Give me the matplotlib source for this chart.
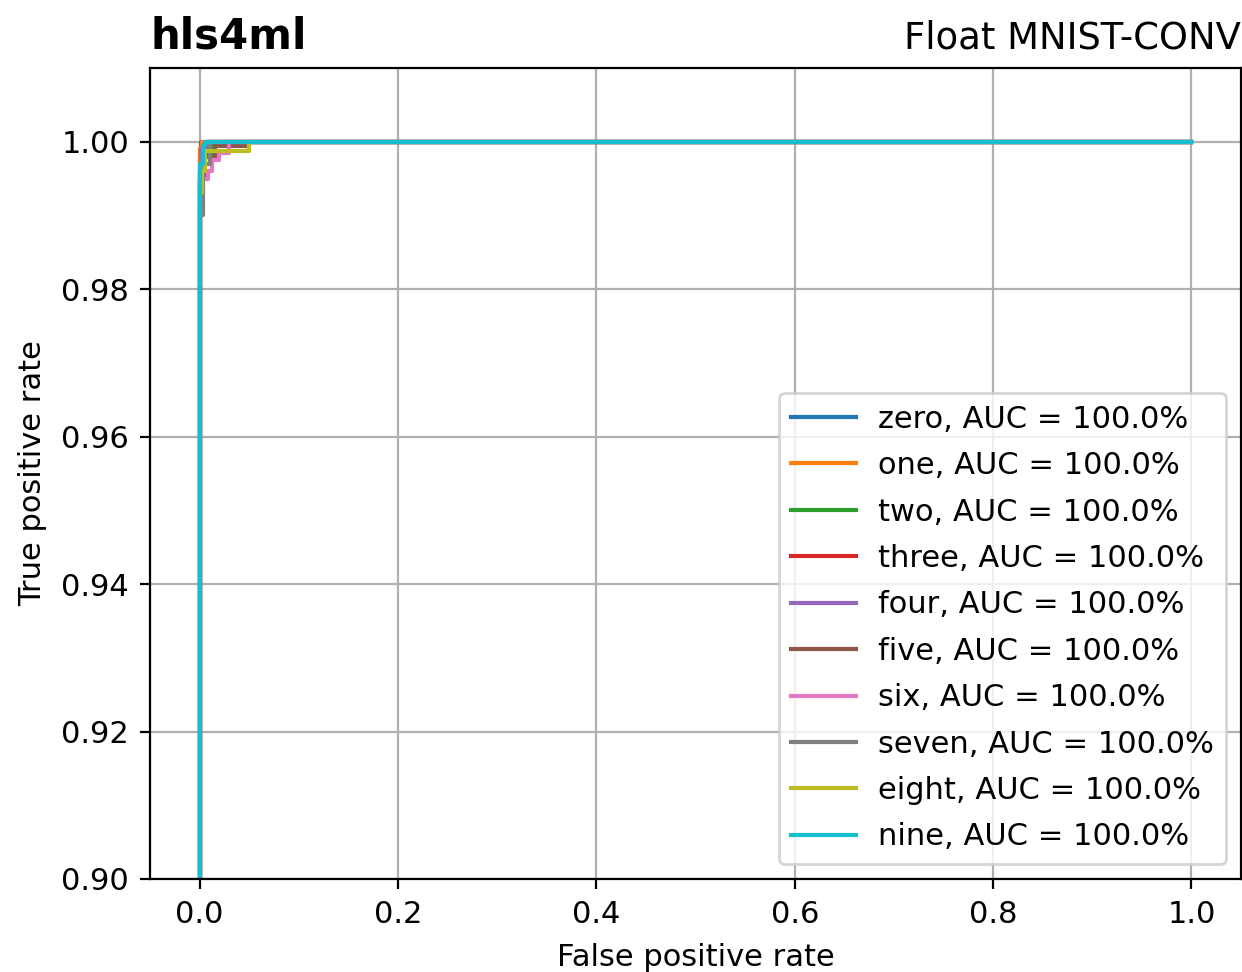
import matplotlib
matplotlib.use("Agg")
import matplotlib.pyplot as plt

labels = ["zero", "one", "two", "three", "four", "five", "six", "seven", "eight", "nine"]
auc = [100.0] * 10

fpr_zero = [0, 0, 0.001, 0.001, 1]
tpr_zero = [0, 0.9985, 0.9985, 1, 1]
fpr_one = [0, 0, 0.002, 0.002, 1]
tpr_one = [0, 0.9992, 0.9992, 1, 1]
fpr_two = [0, 0, 0.004, 0.004, 0.012, 0.012, 0.022, 0.022, 1]
tpr_two = [0, 0.996, 0.996, 0.9985, 0.9985, 0.9995, 0.9995, 1, 1]
fpr_three = [0, 0, 0.003, 0.003, 0.008, 0.008, 1]
tpr_three = [0, 0.995, 0.995, 0.998, 0.998, 1, 1]
fpr_four = [0, 0, 0.001, 0.001, 0.006, 0.006, 1]
tpr_four = [0, 0.996, 0.996, 0.999, 0.999, 1, 1]
fpr_five = [0, 0, 0.004, 0.004, 0.015, 0.015, 0.05, 0.05, 1]
tpr_five = [0, 0.995, 0.995, 0.998, 0.998, 0.9994, 0.9994, 1, 1]
fpr_six = [0, 0, 0.008, 0.008, 0.012, 0.012, 0.02, 0.02, 0.03, 0.03, 1]
tpr_six = [0, 0.995, 0.995, 0.996, 0.996, 0.9975, 0.9975, 0.9985, 0.9985, 1, 1]
fpr_seven = [0, 0, 0.003, 0.003, 0.01, 0.01, 1]
tpr_seven = [0, 0.990, 0.990, 0.997, 0.997, 1, 1]
fpr_eight = [0, 0, 0.002, 0.002, 0.005, 0.005, 0.05, 0.05, 1]
tpr_eight = [0, 0.993, 0.993, 0.996, 0.996, 0.9988, 0.9988, 1, 1]
fpr_nine = [0, 0, 0.003, 0.003, 0.005, 0.005, 1]
tpr_nine = [0, 0.997, 0.997, 0.9995, 0.9995, 1, 1]

fprs = [fpr_zero, fpr_one, fpr_two, fpr_three, fpr_four, fpr_five, fpr_six, fpr_seven, fpr_eight, fpr_nine]
tprs = [tpr_zero, tpr_one, tpr_two, tpr_three, tpr_four, tpr_five, tpr_six, tpr_seven, tpr_eight, tpr_nine]

fig = plt.figure(figsize=(6.21, 4.86), dpi=200)
ax = fig.add_axes([0.1208, 0.0957, 0.8784, 0.8343])

for lab, a, f, t in zip(labels, auc, fprs, tprs):
    ax.plot(f, t, lw=1.5, label=f"{lab}, AUC = {a:.1f}%")

ax.set_xlim(-0.05, 1.05)
ax.set_ylim(0.9, 1.01)
ax.set_xticks([0.0, 0.2, 0.4, 0.6, 0.8, 1.0])
ax.set_yticks([0.90, 0.92, 0.94, 0.96, 0.98, 1.00])
ax.tick_params(labelsize=11, pad=4)
ax.grid(True)
ax.set_xlabel("False positive rate", fontsize=11, labelpad=5)
ax.set_ylabel("True positive rate", fontsize=11, labelpad=5)
ax.set_title("hls4ml", loc="left", fontweight="bold", fontsize=15.1, pad=7)
ax.set_title("Float MNIST-CONV", loc="right", fontsize=13.3, pad=7)
ax.legend(loc="lower right", fontsize=11, handlelength=2.1, handletextpad=0.72,
          labelspacing=0.57)

fig.savefig("out.png", dpi=200)
